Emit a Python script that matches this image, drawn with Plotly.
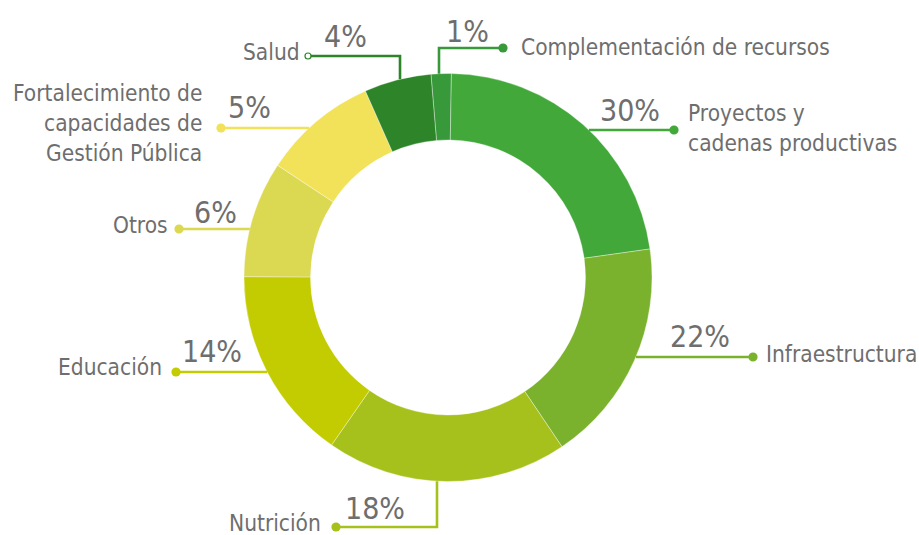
import math
import plotly.graph_objects as go

# ---------------- data ----------------
categories = ["Complementación de recursos", "Proyectos y cadenas productivas",
              "Infraestructura", "Nutrición", "Educación", "Otros",
              "Fortalecimiento de capacidades de Gestión Pública", "Salud"]
# share of the ring drawn for each slice
slice_share = [1.6, 22.5, 17.8, 19.1, 15.4, 9.2, 9.1, 5.3]
# percentages printed next to each slice
label_pct = [1, 30, 22, 18, 14, 6, 5, 4]
label_text = ["Complementación de recursos", "Proyectos y\ncadenas productivas",
              "Infraestructura", "Nutrición", "Educación", "Otros",
              "Fortalecimiento de\ncapacidades de\nGestión Pública", "Salud"]
slice_colors = ["#38993a", "#42a83a", "#7bb22d", "#a6c11c",
                "#c3cc00", "#dbd851", "#f2e259", "#2d8429"]

# ---------------- layout constants (pixels) ----------------
W, H = 919, 535
CX, CY, R = 448, 277.5, 204
HOLE = 0.674
FONT = "Liberation Sans Narrow, DejaVu Sans Condensed, Roboto, sans-serif"
TXT = "#6e6e6e"
LBL_SIZE = 22.5
PCT_SIZE = 30
LINE_GAP = 30

# leader geometry: (kind, coord, elbow/end points)
leaders = [
    ("top", 439, [(439, 48), (503, 48)]),
    ("right", 130, [(674, 130)]),
    ("right", 357, [(753, 357)]),
    ("bottom", 437, [(437, 527), (336, 527)]),
    ("left", 372, [(176, 372)]),
    ("left", 229, [(179, 229)]),
    ("left", 128, [(221, 128)]),
    ("top", 400, [(400, 56), (308, 56)]),
]
# label placement: (x, y, xanchor)
label_pos = [
    (519, 47, "left"),
    (686, 113, "left"),
    (764, 354, "left"),
    (323, 523, "right"),
    (164, 367, "right"),
    (170, 225, "right"),
    (204, 93, "right"),
    (302, 52, "right"),
]
pct_pos = [
    (467, 31), (630, 110), (700, 336), (375, 508),
    (212, 351), (215, 212), (249, 107), (345, 36),
]


def edge_point(kind, c):
    if kind in ("top", "bottom"):
        d = math.sqrt(R * R - (c - CX) ** 2)
        return (c, CY - d if kind == "top" else CY + d)
    d = math.sqrt(R * R - (c - CY) ** 2)
    return (CX + d if kind == "right" else CX - d, c)


fig = go.Figure()
fig.add_trace(go.Pie(
    labels=categories, values=slice_share, sort=False, direction="clockwise",
    rotation=-4.8, hole=HOLE, textinfo="none", hoverinfo="label",
    marker=dict(colors=slice_colors, line=dict(color="rgba(255,255,255,0.6)", width=0.6)),
    domain=dict(x=[(CX - R) / W, (CX + R) / W], y=[1 - (CY + R) / H, 1 - (CY - R) / H]),
    showlegend=False,
))

shapes = []
annotations = []
for i, (kind, c, pts) in enumerate(leaders):
    col = slice_colors[i]
    path_pts = [edge_point(kind, c)] + pts
    d = "M " + " L ".join(f"{x},{y}" for x, y in path_pts)
    shapes.append(dict(type="path", path=d, xref="x", yref="y",
                       line=dict(color=col, width=2.6)))
    ex, ey = pts[-1]
    if i == 7:
        r = 3
        shapes.append(dict(type="circle", xref="x", yref="y", x0=ex - r, x1=ex + r,
                           y0=ey - r, y1=ey + r, fillcolor="white",
                           line=dict(color=col, width=1.2)))
    else:
        r = 4.6
        shapes.append(dict(type="circle", xref="x", yref="y", x0=ex - r, x1=ex + r,
                           y0=ey - r, y1=ey + r, fillcolor=col, line=dict(width=0)))

for i, txt in enumerate(label_text):
    x, y, xa = label_pos[i]
    for k, line in enumerate(txt.split("\n")):
        annotations.append(dict(x=x, y=y + k * LINE_GAP, xref="x", yref="y", text=line,
                                showarrow=False, xanchor=xa, yanchor="middle",
                                font=dict(family=FONT, size=LBL_SIZE, color=TXT)))
    px, py = pct_pos[i]
    annotations.append(dict(x=px, y=py, xref="x", yref="y", text=f"{label_pct[i]}%",
                            showarrow=False, xanchor="center", yanchor="middle",
                            font=dict(family=FONT, size=PCT_SIZE, color=TXT)))

fig.update_layout(
    width=W, height=H, margin=dict(l=0, r=0, t=0, b=0),
    paper_bgcolor="white", plot_bgcolor="rgba(0,0,0,0)",
    xaxis=dict(range=[0, W], visible=False, fixedrange=True, domain=[0, 1]),
    yaxis=dict(range=[H, 0], visible=False, fixedrange=True, domain=[0, 1]),
    shapes=shapes, annotations=annotations,
)
fig.write_html("out.html", config={"displayModeBar": False},
               post_script="document.body.style.margin='0';document.body.style.overflow='hidden';")
